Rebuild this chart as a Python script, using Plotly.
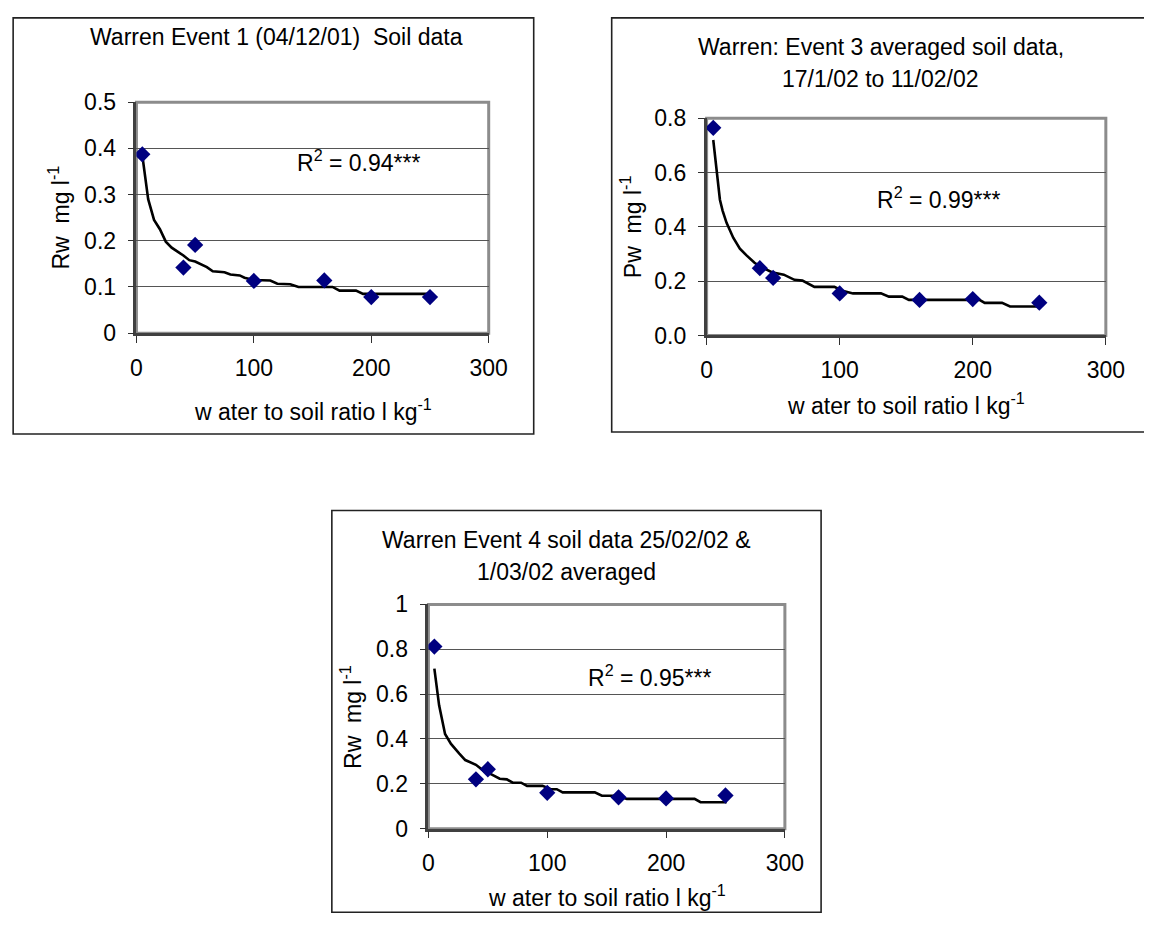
import plotly.graph_objects as go

W, H = 1163, 936

# ---- data ----
ratio = [5, 40, 50, 100, 160, 200, 250]          # water to soil ratio l kg-1

event1_rw = [0.387, 0.142, 0.191, 0.113, 0.114, 0.078, 0.078]
event3_pw = [0.765, 0.248, 0.212, 0.155, 0.131, 0.134, 0.121]
event4_rw = [0.812, 0.220, 0.265, 0.160, 0.140, 0.135, 0.148]

fit1_x = [5, 10, 15, 20, 25, 30, 40, 45, 50, 60, 65, 75, 80, 88, 92, 100, 114, 120, 131, 138, 167, 173, 187, 193, 251]
fit1_y = [0.385, 0.29, 0.245, 0.225, 0.198, 0.185, 0.168, 0.158, 0.155, 0.143, 0.134, 0.132, 0.127, 0.125, 0.12,
          0.115, 0.114, 0.107, 0.106, 0.1, 0.1, 0.092, 0.092, 0.085, 0.085]

fit3_x = [5, 8, 10, 12, 15, 20, 25, 30, 36, 40, 49, 58, 66, 72, 81, 96, 102, 110, 131, 137, 147, 152, 205, 209, 222, 228, 250]
fit3_y = [0.72, 0.58, 0.5, 0.46, 0.415, 0.36, 0.32, 0.295, 0.268, 0.255, 0.233, 0.224, 0.205, 0.202, 0.179, 0.179,
          0.165, 0.155, 0.155, 0.143, 0.143, 0.131, 0.131, 0.12, 0.12, 0.107, 0.107]

fit4_x = [5, 9, 14, 19, 26, 31, 40, 47, 53, 60, 66, 71, 78, 83, 96, 103, 108, 113, 140, 146, 159, 167, 224, 229, 251]
fit4_y = [0.714, 0.55, 0.422, 0.378, 0.335, 0.306, 0.285, 0.256, 0.242, 0.223, 0.22, 0.205, 0.205, 0.191, 0.191,
          0.176, 0.176, 0.162, 0.162, 0.147, 0.147, 0.133, 0.133, 0.118, 0.118]

titles = ["Warren Event 1 (04/12/01)  Soil data",
          "Warren: Event 3 averaged soil data,<br>17/1/02 to 11/02/02",
          "Warren Event 4 soil data 25/02/02 &<br>1/03/02 averaged"]
y_titles = ["Rw  mg l<sup>-1</sup>", "Pw  mg l<sup>-1</sup>", "Rw  mg l<sup>-1</sup>"]
x_title = "w ater to soil ratio l kg<sup>-1</sup>"
r2_labels = ["R<sup>2</sup> = 0.94***", "R<sup>2</sup> = 0.99***", "R<sup>2</sup> = 0.95***"]

# ---- layout geometry (pixels) ----
FONT = "Arial, Liberation Sans, sans-serif"
FS = 23

def px(x):
    return x / W

def py(y):
    return 1 - y / H

panels = [
    dict(plot=(133.3, 91.7, 493.3, 329.3), box=(7.3, 5, 539.3, 433), closed=True, yr=[0, 0.5], dt=0.1, fmt="",
         title_xy=(276, [25]), ytitle_x=54, xtitle_y=408, r2=(189, 0.373),
         y=event1_rw, fx=fit1_x, fy=fit1_y),
    dict(plot=(716, 108.3, 1124, 331.7), box=(619, 5, 1163, 431), closed=False, yr=[0, 0.8], dt=0.2, fmt=".1f",
         title_xy=(894, [35, 68]), ytitle_x=639, xtitle_y=402, r2=(174, 0.507),
         y=event3_pw, fx=fit3_x, fy=fit3_y),
    dict(plot=(431.7, 608.3, 796, 839), box=(333, 511.7, 833, 925), closed=True, yr=[0, 1], dt=0.2, fmt="",
         title_xy=(573, [541.7, 575]), ytitle_x=352, xtitle_y=908, r2=(186, 0.68),
         y=event4_rw, fx=fit4_x, fy=fit4_y),
]

fig = go.Figure()
shapes = []
annotations = []

for i, p in enumerate(panels):
    n = "" if i == 0 else str(i + 1)
    xa, ya = "x" + n, "y" + n
    x0, y0, x1, y1 = p["plot"]

    fig.add_trace(go.Scatter(x=p["fx"], y=p["fy"], mode="lines", xaxis=xa, yaxis=ya,
                             line=dict(color="black", width=2.6), showlegend=False, hoverinfo="skip"))
    fig.add_trace(go.Scatter(x=ratio, y=p["y"], mode="markers", xaxis=xa, yaxis=ya,
                             marker=dict(symbol="diamond", size=12.5, color="#000080",
                                         line=dict(width=0)), showlegend=False))

    fig.update_layout(**{
        ("xaxis" + n): dict(domain=[px(x0), px(x1)], range=[0, 300], dtick=100, tick0=0,
                            anchor=ya, showgrid=False, zeroline=False, showline=True,
                            linecolor="#404040", linewidth=2.5, ticks="outside", ticklen=7,
                            tickcolor="#303030", tickwidth=1.2, ticklabelstandoff=5,
                            tickfont=dict(family=FONT, size=FS, color="black"), fixedrange=True),
        ("yaxis" + n): dict(domain=[py(y1), py(y0)], range=p["yr"], dtick=p["dt"], tick0=0,
                            tickformat=p["fmt"], anchor=xa, showgrid=True, gridcolor="#555555",
                            gridwidth=1.3, zeroline=False, showline=True, linecolor="#404040",
                            linewidth=2.5, ticks="outside", ticklen=6, tickcolor="#303030",
                            tickwidth=1.2, ticklabelstandoff=7,
                            tickfont=dict(family=FONT, size=FS, color="black"), fixedrange=True),
    })

    # plot-area frame (grey)
    shapes.append(dict(type="rect", xref="paper", yref="paper", x0=px(x0), x1=px(x1), y0=py(y1), y1=py(y0),
                       line=dict(color="#8c8c8c", width=3), layer="below"))
    # outer chart box (black); the right-hand panel runs off the page edge
    bx0, by0, bx1, by1 = p["box"]
    if p["closed"]:
        path = f"M {px(bx0)},{py(by0)} L {px(bx1)},{py(by0)} L {px(bx1)},{py(by1)} L {px(bx0)},{py(by1)} Z"
    else:
        path = f"M {px(bx1)},{py(by0)} L {px(bx0)},{py(by0)} L {px(bx0)},{py(by1)} L {px(bx1)},{py(by1)}"
    shapes.append(dict(type="path", xref="paper", yref="paper", path=path,
                       line=dict(color="#222222", width=1.6), layer="below"))

    # titles
    tx, tys = p["title_xy"]
    for line, ty in zip(titles[i].split("<br>"), tys):
        annotations.append(dict(text=line, x=px(tx), y=py(ty), xref="paper", yref="paper",
                                xanchor="center", yanchor="middle", showarrow=False,
                                font=dict(family=FONT, size=FS, color="black")))
    # y title
    annotations.append(dict(text=y_titles[i], x=px(p["ytitle_x"]), y=py((y0 + y1) / 2), xref="paper",
                            yref="paper", xanchor="center", yanchor="middle", textangle=-90,
                            showarrow=False, font=dict(family=FONT, size=FS, color="black")))
    # x title
    annotations.append(dict(text=x_title, x=px((x0 + x1) / 2), y=py(p["xtitle_y"]), xref="paper",
                            yref="paper", xanchor="center", yanchor="middle", showarrow=False,
                            font=dict(family=FONT, size=FS, color="black")))
    # R^2 label
    rx, ry = p["r2"]
    annotations.append(dict(text=r2_labels[i], x=rx, y=ry, xref=xa, yref=ya, xanchor="center",
                            yanchor="middle", showarrow=False,
                            font=dict(family=FONT, size=FS, color="black")))

fig.update_layout(width=W, height=H, margin=dict(l=0, r=0, t=0, b=0),
                  paper_bgcolor="white", plot_bgcolor="white",
                  shapes=shapes, annotations=annotations, showlegend=False)

fig.write_html("out.html", config={"displayModeBar": False},
               post_script="document.body.style.margin='0';document.body.style.overflow='hidden';")
